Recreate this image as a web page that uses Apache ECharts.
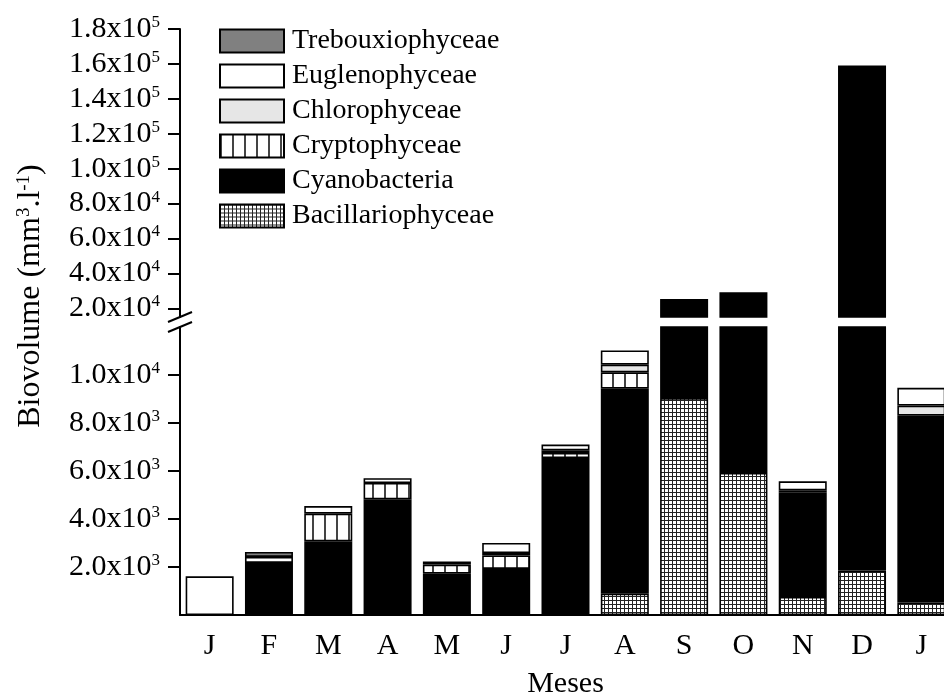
<!DOCTYPE html>
<html>
<head>
<meta charset="utf-8">
<script src="https://cdn.jsdelivr.net/npm/echarts@6/dist/echarts.min.js"></script>
<style>
  html, body { margin: 0; padding: 0; background: #fff; }
  #chart { width: 944px; height: 696px; }
</style>
</head>
<body>
<div id="chart"></div>
<script>
// meses de coleta
var months = ['J', 'F', 'M', 'A', 'M', 'J', 'J', 'A', 'S', 'O', 'N', 'D', 'J'];

// biovolume por classe (mm3.l-1), null = ausente
var bacillariophyceae = [null, null, null, null, null, null, 80, 890, 9040, 5920, 750, 1850, 525];
var cyanobacteria     = [null, 2170, 3070, 4820, 1720, 1920, 6460, 8540, 16260, 23250, 4360, 157250, 7780];
var cryptophyceae     = [null, null, 1150, 680, 380, 560, 210, 680, null, null, null, null, null];
var chlorophyceae     = [null, null, null, null, null, 100, 110, 320, null, null, 85, null, 420];
var euglenophyceae    = [1610, 250, 320, 200, 130, 420, 240, 590, null, null, 375, null, 740];
var trebouxiophyceae  = [null, 210, null, null, null, null, null, null, null, null, null, null, null];

// ticks dos dois trechos do eixo
var lowerTicks = [2000, 4000, 6000, 8000, 10000];
var upperTicks = [20000, 40000, 60000, 80000, 100000, 120000, 140000, 160000, 180000];

var FONT = 'Liberation Serif';

function makePattern(w, h, draw) {
  var c = document.createElement('canvas');
  c.width = w;
  c.height = h;
  var ctx = c.getContext('2d');
  ctx.fillStyle = '#fff';
  ctx.fillRect(0, 0, w, h);
  draw(ctx);
  return { image: c, repeat: 'repeat' };
}

var gridPattern = makePattern(4, 4, function (ctx) {
  ctx.fillStyle = '#222';
  ctx.fillRect(0, 0, 4, 1);
  ctx.fillRect(0, 0, 1, 4);
});
var stripePattern = makePattern(12, 4, function (ctx) {
  ctx.fillStyle = '#444';
  ctx.fillRect(0, 0, 2, 4);
});

function sciLabel(v) {
  var e = Math.floor(Math.log10(v) + 1e-9);
  var m = (v / Math.pow(10, e)).toFixed(1);
  return '{m|' + m + 'x10}{e|' + e + '}';
}

var labelRich = {
  m: { fontFamily: FONT, fontSize: 30, color: '#000', lineHeight: 30 },
  e: { fontFamily: FONT, fontSize: 17, color: '#000', verticalAlign: 'top', lineHeight: 17 }
};

var names = ['Bacillariophyceae', 'Cyanobacteria', 'Cryptophyceae', 'Chlorophyceae', 'Euglenophyceae', 'Trebouxiophyceae'];
var values = [bacillariophyceae, cyanobacteria, cryptophyceae, chlorophyceae, euglenophyceae, trebouxiophyceae];
var fills = [gridPattern, '#000', stripePattern, '#e6e6e6', '#fff', '#808080'];

var series = [];
[0, 1].forEach(function (g) {
  names.forEach(function (name, i) {
    series.push({
      name: name,
      type: 'bar',
      stack: g === 0 ? 'lower' : 'upper',
      xAxisIndex: g,
      yAxisIndex: g,
      barWidth: 48,
      clip: true,
      silent: true,
      itemStyle: { color: fills[i], borderColor: '#000', borderWidth: 1.6 },
      data: values[i]
    });
  });
});

var axisLineStyle = { color: '#000', width: 2 };

var myChart = echarts.init(document.getElementById('chart'));

var option = {
  animation: false,
  backgroundColor: '#fff',
  legend: {
    orient: 'vertical',
    left: 219,
    top: 27,
    padding: 0,
    itemWidth: 64,
    itemHeight: 23,
    itemGap: 7,
    icon: 'rect',
    selectedMode: false,
    data: ['Trebouxiophyceae', 'Euglenophyceae', 'Chlorophyceae', 'Cryptophyceae', 'Cyanobacteria', 'Bacillariophyceae'],
    textStyle: { fontFamily: FONT, fontSize: 28, color: '#000', padding: [0, 0, 0, 3] }
  },
  grid: [
    { left: 180, width: 771, top: 327, height: 288, outerBoundsMode: 'none', containLabel: false },
    { left: 180, width: 771, top: 29, height: 288, outerBoundsMode: 'none', containLabel: false }
  ],
  xAxis: [
    {
      type: 'category',
      gridIndex: 0,
      data: months,
      axisLine: { lineStyle: axisLineStyle },
      axisTick: { alignWithLabel: true, length: 11, lineStyle: axisLineStyle },
      axisLabel: { fontFamily: FONT, fontSize: 30, color: '#000', margin: 16, interval: 0 },
      name: 'Meses',
      nameLocation: 'middle',
      nameGap: 54,
      nameTextStyle: { fontFamily: FONT, fontSize: 30, color: '#000' }
    },
    {
      type: 'category',
      gridIndex: 1,
      data: months,
      show: false
    }
  ],
  yAxis: [
    {
      type: 'value',
      gridIndex: 0,
      min: 0,
      max: 12000,
      splitLine: { show: false },
      axisLine: { show: true, lineStyle: axisLineStyle },
      axisTick: { show: true, length: 12, lineStyle: axisLineStyle, customValues: lowerTicks },
      axisLabel: { margin: 20, customValues: lowerTicks, formatter: sciLabel, rich: labelRich }
    },
    {
      type: 'value',
      gridIndex: 1,
      min: 15000,
      max: 180000,
      splitLine: { show: false },
      axisLine: { show: true, lineStyle: axisLineStyle },
      axisTick: { show: true, length: 12, lineStyle: axisLineStyle, customValues: upperTicks },
      axisLabel: { margin: 20, customValues: upperTicks, formatter: sciLabel, rich: labelRich }
    }
  ],
  graphic: [
    // marcas de quebra do eixo
    { type: 'line', shape: { x1: 168, y1: 322, x2: 192, y2: 312 }, style: { stroke: '#000', lineWidth: 2 } },
    { type: 'line', shape: { x1: 168, y1: 332, x2: 192, y2: 322 }, style: { stroke: '#000', lineWidth: 2 } },
    {
      type: 'text',
      x: 31,
      y: 296,
      rotation: Math.PI / 2,
      style: {
        text: '{a|Biovolume (mm}{s|3}{a|.l}{s|-1}{a|)}',
        align: 'center',
        verticalAlign: 'middle',
        rich: {
          a: { fontFamily: FONT, fontSize: 32, fill: '#000', lineHeight: 32 },
          s: { fontFamily: FONT, fontSize: 19, fill: '#000', verticalAlign: 'top', lineHeight: 19 }
        }
      }
    }
  ],
  series: series
};

myChart.setOption(option);
</script>
</body>
</html>
